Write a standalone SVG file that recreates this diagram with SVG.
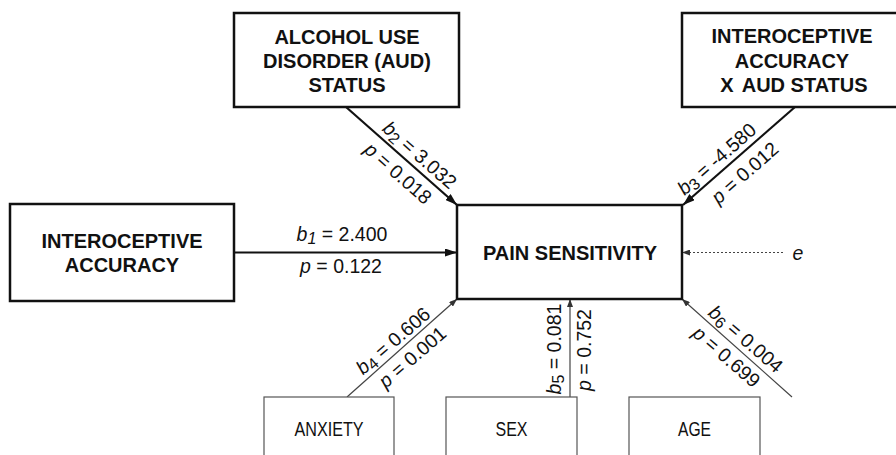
<svg xmlns="http://www.w3.org/2000/svg" width="896" height="455" viewBox="0 0 896 455">
<defs>
<style>
.box{fill:#fff;stroke:#111;stroke-width:2.5}
.sbox{fill:#fff;stroke:#555;stroke-width:1.2}
.bt{font-family:"Liberation Sans",Arial,Helvetica,sans-serif;font-weight:bold;font-size:20px;fill:#111;text-anchor:middle}
.nt{font-family:"Liberation Sans",Arial,Helvetica,sans-serif;font-size:19.5px;fill:#111;text-anchor:middle}
.lb{font-family:"Liberation Sans",Arial,Helvetica,sans-serif;font-size:19.5px;fill:#111;text-anchor:middle}
.it{font-style:italic}
.sub{font-size:16px}
.thick{fill:none;stroke:#111;stroke-width:2.2}
.thin{fill:none;stroke:#444;stroke-width:1.2}
.dot{fill:none;stroke:#444;stroke-width:1.2;stroke-dasharray:2 2}
</style>
<marker id="ah" markerUnits="userSpaceOnUse" markerWidth="12" markerHeight="8" refX="12" refY="4" orient="auto"><path d="M0,0 L12,4 L0,8 z" fill="#111"/></marker>
<marker id="ahs" markerUnits="userSpaceOnUse" markerWidth="8" markerHeight="6" refX="8" refY="3" orient="auto"><path d="M0,0 L8,3 L0,6 z" fill="#333"/></marker>
</defs>
<rect width="896" height="455" fill="#fff"/>

<g id="connectors">
<path class="thick" d="M234,252.5 H457" marker-end="url(#ah)"/>
<path class="thick" d="M346,107 L457,205" marker-end="url(#ah)"/>
<path class="thick" d="M795,107 L683,205" marker-end="url(#ah)"/>
<path class="thin" d="M347,397 L457,299" marker-end="url(#ahs)"/>
<path class="thin" d="M570,397 V299" marker-end="url(#ahs)"/>
<path class="thin" d="M792,397 L682,299" marker-end="url(#ahs)"/>
<path class="dot" d="M783,252.5 H682" marker-end="url(#ahs)"/>

<text class="lb" x="342" y="241"><tspan class="it">b</tspan><tspan class="sub it" dy="3">1</tspan><tspan dy="-3"> = 2.400</tspan></text>
<text class="lb" x="341" y="273"><tspan class="it">p</tspan> = 0.122</text>

<g transform="translate(346,107) rotate(41.4)">
<text class="lb" x="87" y="-6"><tspan class="it">b</tspan><tspan class="sub" dy="3">2</tspan><tspan dy="-3"> = 3.032</tspan></text>
<text class="lb" x="83" y="22"><tspan class="it">p</tspan> = 0.018</text>
</g>
<g transform="translate(683,204) rotate(-41.2)">
<text class="lb" x="55" y="-5"><tspan class="it">b</tspan><tspan class="sub" dy="3">3</tspan><tspan dy="-3"> = -4.580</tspan></text>
<text class="lb" x="67" y="24"><tspan class="it">p</tspan> = 0.012</text>
</g>
<g transform="translate(347,396) rotate(-40.8)">
<text class="lb" x="71" y="-5"><tspan class="it">b</tspan><tspan class="sub" dy="3">4</tspan><tspan dy="-3"> = 0.606</tspan></text>
<text class="lb" x="75" y="20"><tspan class="it">p</tspan> = 0.001</text>
</g>
<g transform="translate(570,397) rotate(-90)">
<text class="lb" x="48" y="-9.5"><tspan class="it">b</tspan><tspan class="sub" dy="3">5</tspan><tspan dy="-3"> = 0.081</tspan></text>
<text class="lb" x="47" y="20.5"><tspan class="it">p</tspan> = 0.752</text>
</g>
<g transform="translate(683,300) rotate(41)">
<text class="lb" x="73" y="-5"><tspan class="it">b</tspan><tspan class="sub" dy="3">6</tspan><tspan dy="-3"> = 0.004</tspan></text>
<text class="lb" x="70" y="21"><tspan class="it">p</tspan> = 0.699</text>
</g>
<text class="lb it" x="798" y="260">e</text>
</g>

<g id="aud">
<rect class="box" x="234" y="13" width="225" height="94"/>
<text class="bt" x="347" y="43.5">ALCOHOL USE</text>
<text class="bt" x="347" y="67.5">DISORDER (AUD)</text>
<text class="bt" x="347" y="91.5">STATUS</text>
</g>
<g id="interaction">
<rect class="box" x="682" y="13" width="222" height="94"/>
<text class="bt" x="792" y="43">INTEROCEPTIVE</text>
<text class="bt" x="792" y="67.5">ACCURACY</text>
<text class="bt" x="794" y="92">X<tspan dx="8">AUD STATUS</tspan></text>
</g>
<g id="ia">
<rect class="box" x="10" y="204" width="224" height="97"/>
<text class="bt" x="122" y="248">INTEROCEPTIVE</text>
<text class="bt" x="122" y="272">ACCURACY</text>
</g>
<g id="pain">
<rect class="box" x="457" y="205" width="225" height="94"/>
<text class="bt" x="570" y="260">PAIN SENSITIVITY</text>
</g>
<g id="anxiety">
<rect class="sbox" x="264" y="397" width="130" height="70"/>
<text class="nt" x="329" y="436" textLength="69" lengthAdjust="spacingAndGlyphs">ANXIETY</text>
</g>
<g id="sex">
<rect class="sbox" x="446" y="397" width="131" height="70"/>
<text class="nt" x="511.5" y="436" textLength="32" lengthAdjust="spacingAndGlyphs">SEX</text>
</g>
<g id="age">
<rect class="sbox" x="629" y="397" width="131" height="70"/>
<text class="nt" x="694.5" y="436" textLength="33" lengthAdjust="spacingAndGlyphs">AGE</text>
</g>
</svg>
